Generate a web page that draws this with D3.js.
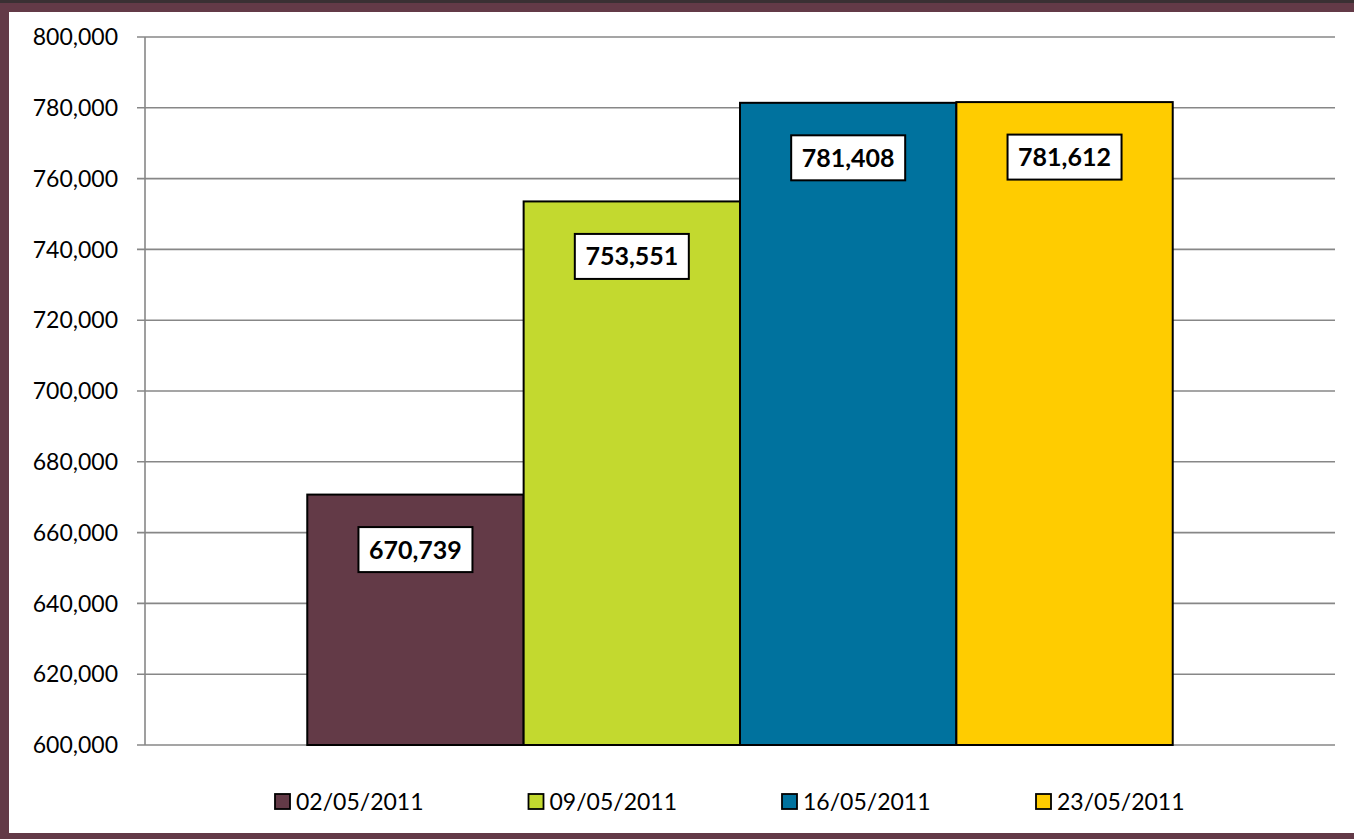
<!DOCTYPE html>
<html><head><meta charset="utf-8">
<script src="https://cdn.jsdelivr.net/npm/d3@7"></script>
<style>
html,body{margin:0;padding:0;background:#fff;}
svg{display:block;font-family:Lato,"Open Sans",sans-serif;}
</style></head>
<body>
<svg id="c" width="1354" height="839"></svg>
<script>
const seriesNames = ["02/05/2011","09/05/2011","16/05/2011","23/05/2011"];
const seriesValues = [670739, 753551, 781408, 781612];
const seriesColors = ["#633A47","#C3D92F","#00729E","#FFCC00"];
const yTicks = [600000,620000,640000,660000,680000,700000,720000,740000,760000,780000,800000];

(function(){
const svg = d3.select("#c");
const W = 1354, H = 839;
const border = "#633A47";
svg.append("rect").attr("x",0).attr("y",0).attr("width",W).attr("height",H).attr("fill",border);
svg.append("rect").attr("x",0).attr("y",0).attr("width",W).attr("height",3).attr("fill","#3a3033");
svg.append("rect").attr("x",9).attr("y",12).attr("width",W-9).attr("height",821).attr("fill","#fff");

const pL = 145, pR = 1335, pT = 37, pB = 745;
const y = d3.scaleLinear().domain([600000,800000]).range([pB,pT]);
const bw = (pR-pL)/5.5;
const x = d3.scaleBand().domain(seriesNames).range([pL+0.75*bw, pR-0.75*bw]).padding(0);

const g = svg.append("g");
g.selectAll("line.grid").data(yTicks).join("line")
  .attr("x1",pL-8).attr("x2",pR)
  .attr("y1",d=>y(d)).attr("y2",d=>y(d))
  .attr("stroke","#878787").attr("stroke-width",1.6);
g.append("line").attr("x1",pL).attr("x2",pL).attr("y1",pT).attr("y2",pB)
  .attr("stroke","#878787").attr("stroke-width",1.6);
g.selectAll("text.tick").data(yTicks).join("text")
  .attr("x",118).attr("y",d=>y(d)).attr("dy","0.36em")
  .attr("text-anchor","end").attr("font-size",23).attr("fill","#000")
  .text(d=>d3.format(",")(d));

const bars = svg.append("g");
bars.selectAll("rect").data(seriesValues).join("rect")
  .attr("x",(d,i)=>x(seriesNames[i]))
  .attr("width",x.bandwidth())
  .attr("y",d=>y(d))
  .attr("height",d=>pB-y(d))
  .attr("fill",(d,i)=>seriesColors[i])
  .attr("stroke","#000").attr("stroke-width",2);

const lab = svg.append("g");
seriesValues.forEach((v,i)=>{
  const cx = x(seriesNames[i]) + x.bandwidth()/2;
  const cy = y(v) + 55;
  lab.append("rect").attr("x",cx-57).attr("y",cy-22.5).attr("width",114).attr("height",45)
    .attr("fill","#fff").attr("stroke","#000").attr("stroke-width",2);
  lab.append("text").attr("x",cx).attr("y",cy).attr("dy","0.36em")
    .attr("text-anchor","middle").attr("font-size",25).attr("font-weight","bold")
    .text(d3.format(",")(v));
});

const leg = svg.append("g");
const legX = [275, 528.5, 782, 1036];
seriesNames.forEach((n,i)=>{
  leg.append("rect").attr("x",legX[i]).attr("y",794).attr("width",15).attr("height",15)
    .attr("fill",seriesColors[i]).attr("stroke","#000").attr("stroke-width",1.8);
  leg.append("text").attr("x",legX[i]+21).attr("y",801.5).attr("dy","0.36em")
    .attr("font-size",23).text(n);
});
})();
</script>
</body></html>
